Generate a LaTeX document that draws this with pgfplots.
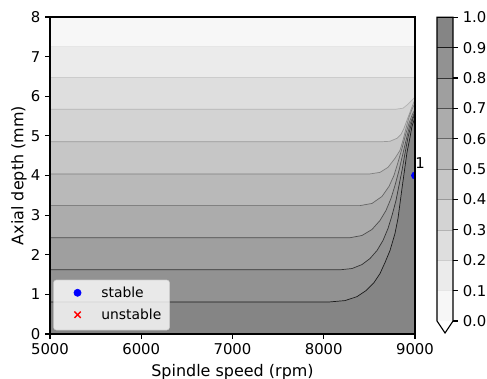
\documentclass[border=0pt]{standalone}
\usepackage{fontspec}
\setmainfont{DejaVu Sans}
\usepackage{pgfplots}
\pgfplotsset{compat=1.18}
\usepackage{pgfplotstable}

\definecolor{c0}{RGB}{247,247,247}
\definecolor{c1}{RGB}{235,235,235}
\definecolor{c2}{RGB}{222,222,222}
\definecolor{c3}{RGB}{211,211,211}
\definecolor{c4}{RGB}{198,198,198}
\definecolor{c5}{RGB}{185,185,185}
\definecolor{c6}{RGB}{172,172,172}
\definecolor{c7}{RGB}{159,159,159}
\definecolor{c8}{RGB}{146,146,146}
\definecolor{c9}{RGB}{133,133,133}
\definecolor{l1}{RGB}{230,230,230}
\definecolor{l2}{RGB}{204,204,204}
\definecolor{l3}{RGB}{179,179,179}
\definecolor{l4}{RGB}{153,153,153}
\definecolor{l5}{RGB}{128,128,128}
\definecolor{l6}{RGB}{102,102,102}
\definecolor{l7}{RGB}{77,77,77}
\definecolor{l8}{RGB}{51,51,51}
\definecolor{l9}{RGB}{26,26,26}

% contour lines (levels 0.1 ... 0.9)
\pgfplotstableread{
x y
5000 8
9000 8
}\Lzero
\pgfplotstableread{
x y
5000 7.27
9000 7.27
}\Lone
\pgfplotstableread{
x y
5000 6.48
9000 6.48
}\Ltwo
\pgfplotstableread{
x y
5000 5.67
8780.8 5.67
8868.5 5.698
8923.3 5.799
8967.1 5.900
9000 5.977
}\Lthree
\pgfplotstableread{
x y
5000 4.85
8616.4 4.85
8726.0 4.864
8802.7 4.939
8846.6 5.040
8879.5 5.192
8912.3 5.395
8945.2 5.597
8978.1 5.799
9000 5.926
}\Lfour
\pgfplotstableread{
x y
5000 4.04
8506.8 4.04
8616.4 4.079
8704.1 4.206
8780.8 4.433
8835.6 4.636
8868.5 4.889
8901.4 5.192
8934.2 5.470
8967.1 5.673
9000 5.824
}\Lfive
\pgfplotstableread{
x y
5000 3.24
8397.3 3.24
8528.8 3.295
8638.4 3.472
8715.1 3.725
8769.9 4.004
8813.7 4.332
8857.5 4.686
8901.4 5.066
8934.2 5.319
8967.1 5.521
9000 5.673
}\Lsix
\pgfplotstableread{
x y
5000 2.43
8287.7 2.43
8419.2 2.486
8528.8 2.638
8616.4 2.865
8682.2 3.118
8737.0 3.422
8780.8 3.751
8824.7 4.130
8868.5 4.560
8912.3 4.990
8945.2 5.294
8978.1 5.496
9000 5.622
}\Lseven
\pgfplotstableread{
x y
5000 1.62
8178.1 1.62
8309.6 1.652
8419.2 1.753
8506.8 1.904
8583.6 2.107
8649.3 2.360
8704.1 2.663
8748.0 2.991
8791.8 3.371
8824.7 3.751
8857.5 4.130
8890.4 4.560
8923.3 4.965
8956.2 5.268
8978.1 5.445
9000 5.546
}\Leight
\pgfplotstableread{
x y
5000 0.81
8068.5 0.81
8232.9 0.843
8364.4 0.943
8463.0 1.095
8550.7 1.297
8616.4 1.525
8671.2 1.803
8726.0 2.107
8780.8 2.537
8813.7 2.916
8835.6 3.295
8857.5 3.675
8884.9 4.130
8912.3 4.585
8945.2 4.965
8967.1 5.243
8989.0 5.395
9000 5.470
}\Lnine

\begin{document}
\begin{tikzpicture}
\useasboundingbox (-36pt,-32.4pt) rectangle (314.64pt,240.48pt);
\begin{axis}[
  at={(0pt,0pt)}, anchor=south west,
  scale only axis, width=262.8pt, height=228.24pt,
  xmin=5000, xmax=9000, ymin=0, ymax=8,
  xtick={5000,6000,7000,8000,9000}, ytick={0,1,2,3,4,5,6,7,8},
  xtick pos=bottom, ytick pos=left,
  tick align=outside, major tick length=3.5pt,
  tick style={black, line width=0.8pt},
  axis line style={line width=0.8pt},
  /pgf/number format/assume math mode=true,
  /pgf/number format/1000 sep={},
  tick label style={font=\fontsize{10.7}{12}\selectfont},
  label style={font=\fontsize{11.5}{13}\selectfont},
  xlabel={Spindle speed (rpm)}, ylabel={Axial depth (mm)},
  ylabel shift=-4pt,
  axis on top,
  clip marker paths=true,
  legend cell align=left,
  legend style={at={(0.009,0.0117)}, anchor=south west, fill=white,
    fill opacity=0.8, draw=black!20, draw opacity=0.8, text opacity=1,
    rounded corners=2pt, inner xsep=3pt, inner ysep=2.2pt, row sep=0pt,
    nodes={inner sep=2.9pt, text height=7.6pt, text depth=2.4pt},
    font=\fontsize{10}{12}\selectfont},
  legend image code/.code={\path[draw=none, fill=none] (0pt,0pt) -- (28.5pt,0pt);
    \path[#1, draw=none, fill opacity=1, draw opacity=1, mark repeat=2, mark phase=2] plot coordinates {(0pt,0.9pt) (14.26pt,0.9pt) (28.52pt,0.9pt)};},
]
\addplot[fill=c0, draw=none, forget plot] table {\Lzero} \closedcycle;
\addplot[fill=c1, draw=none, forget plot] table {\Lone} \closedcycle;
\addplot[fill=c2, draw=none, forget plot] table {\Ltwo} \closedcycle;
\addplot[fill=c3, draw=none, forget plot] table {\Lthree} \closedcycle;
\addplot[fill=c4, draw=none, forget plot] table {\Lfour} \closedcycle;
\addplot[fill=c5, draw=none, forget plot] table {\Lfive} \closedcycle;
\addplot[fill=c6, draw=none, forget plot] table {\Lsix} \closedcycle;
\addplot[fill=c7, draw=none, forget plot] table {\Lseven} \closedcycle;
\addplot[fill=c8, draw=none, forget plot] table {\Leight} \closedcycle;
\addplot[fill=c9, draw=none, forget plot] table {\Lnine} \closedcycle;

\addplot[l1, line width=0.5pt, forget plot] table {\Lone};
\addplot[l2, line width=0.5pt, forget plot] table {\Ltwo};
\addplot[l3, line width=0.5pt, forget plot] table {\Lthree};
\addplot[l4, line width=0.5pt, forget plot] table {\Lfour};
\addplot[l5, line width=0.5pt, forget plot] table {\Lfive};
\addplot[l6, line width=0.5pt, forget plot] table {\Lsix};
\addplot[l7, line width=0.5pt, forget plot] table {\Lseven};
\addplot[l8, line width=0.5pt, forget plot] table {\Leight};
\addplot[l9, line width=0.5pt, forget plot] table {\Lnine};

\addplot[only marks, mark=*, mark size=2.6pt, color=blue, mark options={fill opacity=1, draw opacity=1}] coordinates {(9000,4)};
\addlegendentry{stable}
\addlegendimage{only marks, mark=x, mark size=3.2pt, color=red, line width=1pt, mark options={draw opacity=1}}
\addlegendentry{unstable}

\coordinate (lab1) at (axis cs:9000,4);
\end{axis}
\node[anchor=base west, inner sep=0pt, yshift=4.9pt, font=\fontsize{10.7}{12}\selectfont] at (lab1) {1};

\begin{axis}[
  at={(278.64pt,9.36pt)}, anchor=south west, scale only axis,
  width=11.52pt, height=218.66pt,
  xmin=0, xmax=1, ymin=0, ymax=1,
  xtick=\empty, ytick={0,0.1,0.2,0.3,0.4,0.5,0.6,0.7,0.8,0.9,1},
  ytick pos=right, yticklabel pos=right,
  tick align=outside, major tick length=3.5pt,
  tick style={black, line width=0.8pt},
  yticklabel style={/pgf/number format/.cd, fixed, fixed zerofill, precision=1},
  /pgf/number format/assume math mode=true,
  tick label style={font=\fontsize{10.7}{12}\selectfont},
  axis line style={draw=none},
  clip=false,
]
\addplot[fill=c9, draw=none] coordinates {(0,1) (1,1)} \closedcycle;
\addplot[fill=c8, draw=none] coordinates {(0,0.9) (1,0.9)} \closedcycle;
\addplot[fill=c7, draw=none] coordinates {(0,0.8) (1,0.8)} \closedcycle;
\addplot[fill=c6, draw=none] coordinates {(0,0.7) (1,0.7)} \closedcycle;
\addplot[fill=c5, draw=none] coordinates {(0,0.6) (1,0.6)} \closedcycle;
\addplot[fill=c4, draw=none] coordinates {(0,0.5) (1,0.5)} \closedcycle;
\addplot[fill=c3, draw=none] coordinates {(0,0.4) (1,0.4)} \closedcycle;
\addplot[fill=c2, draw=none] coordinates {(0,0.3) (1,0.3)} \closedcycle;
\addplot[fill=c1, draw=none] coordinates {(0,0.2) (1,0.2)} \closedcycle;
\addplot[fill=c0, draw=none] coordinates {(0,0.1) (1,0.1)} \closedcycle;
\addplot[fill=white, draw=none] coordinates {(0,0) (0.5,-0.0395) (1,0)};
\addplot[l1, line width=0.5pt] coordinates {(0,0.1) (1,0.1)};
\addplot[l2, line width=0.5pt] coordinates {(0,0.2) (1,0.2)};
\addplot[l3, line width=0.5pt] coordinates {(0,0.3) (1,0.3)};
\addplot[l4, line width=0.5pt] coordinates {(0,0.4) (1,0.4)};
\addplot[l5, line width=0.5pt] coordinates {(0,0.5) (1,0.5)};
\addplot[l6, line width=0.5pt] coordinates {(0,0.6) (1,0.6)};
\addplot[l7, line width=0.5pt] coordinates {(0,0.7) (1,0.7)};
\addplot[l8, line width=0.5pt] coordinates {(0,0.8) (1,0.8)};
\addplot[l9, line width=0.5pt] coordinates {(0,0.9) (1,0.9)};
\addplot[black, line width=0.8pt, line join=miter] coordinates {(0,1) (0,0) (0.5,-0.0395) (1,0) (1,1)} -- cycle;
\end{axis}
\end{tikzpicture}
\end{document}
